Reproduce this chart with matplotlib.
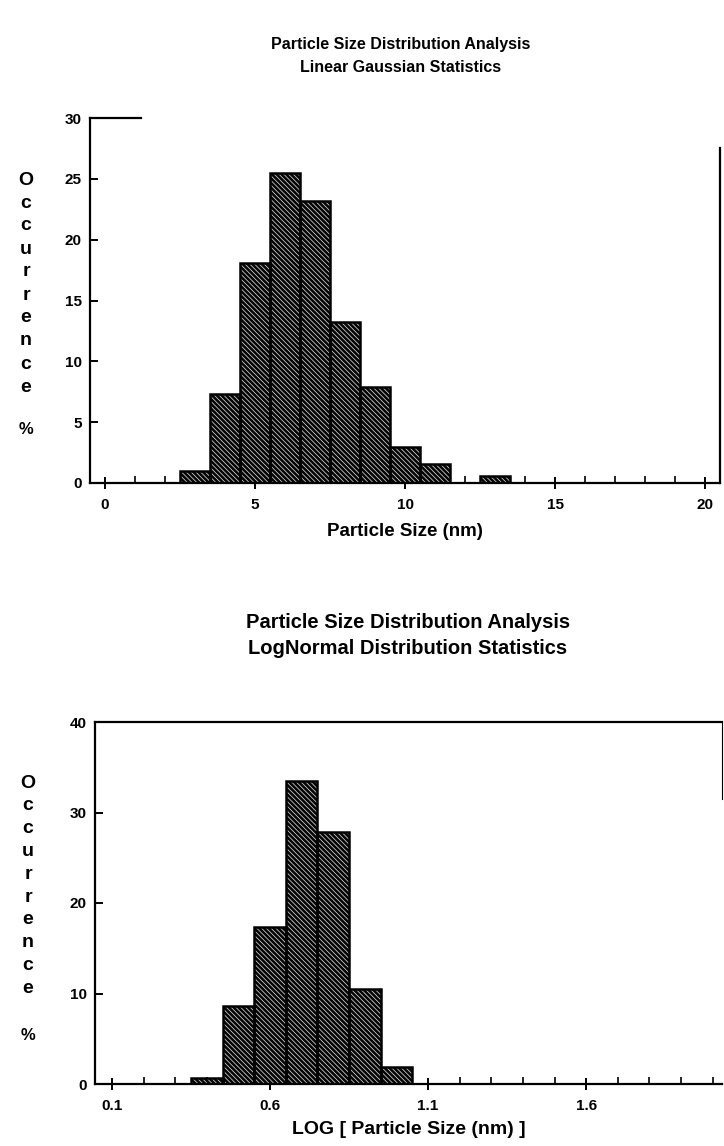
import matplotlib
matplotlib.use("Agg")
import matplotlib.pyplot as plt
import numpy as np

# ---- data ----
lin_centers = [3, 4, 5, 6, 7, 8, 9, 10, 11, 13]
lin_values = [1.0, 7.3, 18.1, 25.5, 23.2, 13.2, 7.9, 3.0, 1.6, 0.6]
lin_width = 1.0
lin_xticks = [0, 5, 10, 15, 20]
lin_yticks = [0, 5, 10, 15, 20, 25, 30]

log_centers = [0.4, 0.5, 0.6, 0.7, 0.8, 0.9, 1.0]
log_values = [0.7, 8.6, 17.3, 33.5, 27.8, 10.5, 1.9]
log_width = 0.1
log_xticks = [0.1, 0.6, 1.1, 1.6]
log_xtick_labels = ["0.1", "0.6", "1.1", "1.6"]
log_yticks = [0, 10, 20, 30, 40]

ylabel_letters = list("Occurrence")

plt.rcParams['font.family'] = ['Liberation Sans', 'DejaVu Sans']
plt.rcParams['font.weight'] = 'bold'
plt.rcParams['hatch.linewidth'] = 0.5

W, H = 724, 1146
fig = plt.figure(figsize=(W / 100, H / 100), dpi=100)


def px_axes(x0, y0, x1, y1):
    return fig.add_axes([x0 / W, 1 - y1 / H, (x1 - x0) / W, (y1 - y0) / H])


def draw_bars(ax, centers, values, width):
    ax.bar(centers, values, width=width, color='#050505', edgecolor='#e6e6e6',
           hatch='\\' * 7, linewidth=0, zorder=2)
    ax.bar(centers, values, width=width, fill=False, edgecolor='black',
           linewidth=1.8, zorder=3)


def style_axes(ax):
    for s in ax.spines.values():
        s.set_linewidth(1.6)
    ax.tick_params(axis='both', which='major', labelsize=11, width=1.4)
    ax.tick_params(axis='x', which='major', direction='inout', length=9, pad=6)
    ax.tick_params(axis='x', which='minor', direction='in', length=5, width=1.2)
    ax.tick_params(axis='y', which='major', direction='in', length=6, pad=6)
    for lab in ax.get_xticklabels() + ax.get_yticklabels():
        lab.set_fontweight('bold')


def vertical_label(x, y_first, step, y_pct):
    for i, ch in enumerate(ylabel_letters):
        fig.text(x / W, 1 - (y_first + i * step) / H, ch, ha='center',
                 va='center', fontsize=14, fontweight='bold')
    fig.text(x / W, 1 - y_pct / H, "%", ha='center', va='center',
             fontsize=12, fontweight='bold')


# ---- top chart ----
ax1 = px_axes(90, 118, 720, 483)
draw_bars(ax1, lin_centers, lin_values, lin_width)
ax1.set_xlim(-0.5, 20.5)
ax1.set_ylim(0, 30)
ax1.set_xticks(lin_xticks)
ax1.set_xticks(np.arange(0, 21, 1), minor=True)
ax1.set_yticks(lin_yticks)
style_axes(ax1)
ax1.spines['top'].set_bounds(-0.5, 1.2)
ax1.spines['right'].set_bounds(0, 27.5)
ax1.set_xlabel("Particle Size (nm)", fontsize=13.5, fontweight='bold', labelpad=8)

fig.text(401 / W, 1 - 45 / H, "Particle Size Distribution Analysis",
         ha='center', va='center', fontsize=11.5, fontweight='bold')
fig.text(401 / W, 1 - 67 / H, "Linear Gaussian Statistics",
         ha='center', va='center', fontsize=11.5, fontweight='bold')

vertical_label(26, 180, 23.0, 430)

# ---- bottom chart ----
ax2 = px_axes(95, 722, 722, 1084)
draw_bars(ax2, log_centers, log_values, log_width)
ax2.set_xlim(0.046, 2.03)
ax2.set_ylim(0, 40)
ax2.set_xticks(log_xticks)
ax2.set_xticklabels(log_xtick_labels)
ax2.set_xticks(np.arange(0.1, 2.01, 0.1), minor=True)
ax2.set_yticks(log_yticks)
style_axes(ax2)
ax2.spines['right'].set_bounds(31.5, 40)
ax2.spines['right'].set_linewidth(0.8)
ax2.set_xlabel("LOG [ Particle Size (nm) ]", fontsize=14, fontweight='bold',
               labelpad=6)

fig.text(408 / W, 1 - 622 / H, "Particle Size Distribution Analysis",
         ha='center', va='center', fontsize=14.5, fontweight='bold')
fig.text(408 / W, 1 - 648 / H, "LogNormal Distribution Statistics",
         ha='center', va='center', fontsize=14.5, fontweight='bold')

vertical_label(28, 783, 22.8, 1035)

fig.savefig("out.png", dpi=100, facecolor='white')
